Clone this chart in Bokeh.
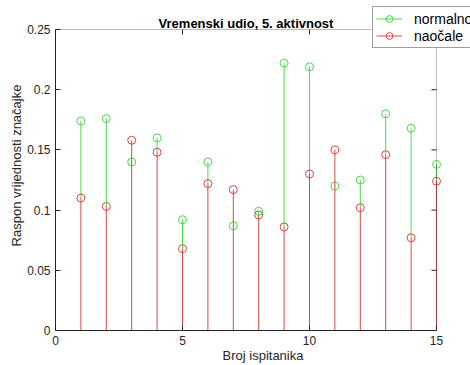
from bokeh.plotting import figure
from bokeh.models import (Range1d, FixedTicker, Legend, LegendItem, Label,
                          BoxAnnotation)
from bokeh.embed import file_html
from bokeh.resources import INLINE

# Subjects and the range of the feature value for each condition
subjects = list(range(1, 16))
normalno = [0.174, 0.176, 0.140, 0.160, 0.092, 0.140, 0.087, 0.099,
            0.222, 0.219, 0.120, 0.125, 0.180, 0.168, 0.138]
naocale = [0.110, 0.103, 0.158, 0.148, 0.068, 0.122, 0.117, 0.096,
           0.086, 0.130, 0.150, 0.102, 0.146, 0.077, 0.124]

x_ticks = [0, 5, 10, 15]
x_tick_labels = ["0", "5", "10", "15"]
y_ticks = [0, 0.05, 0.1, 0.15, 0.2, 0.25]
y_tick_labels = ["0", "0.05", "0.1", "0.15", "0.2", "0.25"]
x_lim = (0, 15)
y_lim = (0, 0.25)

title_text = "Vremenski udio, 5. aktivnost"
x_label = "Broj ispitanika"
y_label = "Raspon vrijednosti značajke"
series_names = ["normalno", "naočale"]

GREEN = "#4cd94c"
RED = "#d94848"
AXIS = "#262626"
FONT = "Liberation Sans"

# Page geometry (pixels).  The plotting frame reaches the top and right
# edges of the canvas so that the title and the boxed legend can sit over
# the axes box; the axes box itself spans AX_LEFT..AX_RIGHT, AX_TOP..AX_BOTTOM.
W, H = 470, 365
AX_LEFT, AX_RIGHT, AX_TOP, AX_BOTTOM = 55, 436, 29, 330

px_per_x = (AX_RIGHT - AX_LEFT) / (x_lim[1] - x_lim[0])
px_per_y = (AX_BOTTOM - AX_TOP) / (y_lim[1] - y_lim[0])
x_range = Range1d(x_lim[0], x_lim[1] + (W - AX_RIGHT) / px_per_x)
y_range = Range1d(y_lim[0], y_lim[1] + AX_TOP / px_per_y)

p = figure(width=W, height=H, output_backend="svg", toolbar_location=None,
           x_range=x_range, y_range=y_range,
           min_border_left=AX_LEFT, min_border_right=0, min_border_top=0,
           min_border_bottom=H - AX_BOTTOM)
p.background_fill_color = "white"
p.border_fill_color = "white"
p.outline_line_color = None
p.grid.visible = False

# The red stems cover the green ones from the baseline up, so the green
# stem is only visible above the red value.
green_base = [min(g, r) for g, r in zip(normalno, naocale)]
zeros = [0] * len(subjects)

g_stem = p.segment(x0=subjects, y0=green_base, x1=subjects, y1=normalno,
                   line_color=GREEN, line_width=1)
g_mark = p.scatter(x=subjects, y=normalno, marker="circle", size=8,
                   fill_color=None, line_color=GREEN, line_width=1)
r_stem = p.segment(x0=subjects, y0=zeros, x1=subjects, y1=naocale,
                   line_color=RED, line_width=1)
r_mark = p.scatter(x=subjects, y=naocale, marker="circle", size=8,
                   fill_color=None, line_color=RED, line_width=1)

# Axes box with inward ticks on the top and right sides
p.add_layout(BoxAnnotation(left=x_lim[0], right=x_lim[1], bottom=y_lim[0],
                           top=y_lim[1], fill_color=None, line_color=AXIS,
                           line_width=1))
p.ray(x=x_ticks, y=[y_lim[1]] * len(x_ticks), length=5, length_units="screen",
      angle=-90, angle_units="deg", line_color=AXIS, line_width=1)
p.ray(x=[x_lim[1]] * len(y_ticks), y=y_ticks, length=5, length_units="screen",
      angle=180, angle_units="deg", line_color=AXIS, line_width=1)


def style_axis(ax):
    ax.axis_line_color = AXIS
    ax.major_tick_line_color = AXIS
    ax.major_tick_in = 5
    ax.major_tick_out = 0
    ax.minor_tick_line_color = None
    ax.major_label_text_font = FONT
    ax.major_label_text_font_size = "12px"
    ax.major_label_text_color = AXIS
    ax.axis_label_text_font = FONT
    ax.axis_label_text_font_size = "13px"
    ax.axis_label_text_font_style = "normal"
    ax.axis_label_text_color = AXIS


xa = p.xaxis[0]
xa.ticker = FixedTicker(ticks=x_ticks)
xa.bounds = x_lim
xa.major_label_overrides = {t: l for t, l in zip(x_ticks, x_tick_labels)}
xa.axis_label = x_label
xa.axis_label_standoff = 0
xa.major_label_standoff = 5
style_axis(xa)

ya = p.yaxis[0]
ya.ticker = FixedTicker(ticks=y_ticks)
ya.bounds = y_lim
ya.major_label_overrides = {t: l for t, l in zip(y_ticks, y_tick_labels)}
ya.axis_label = y_label
ya.axis_label_standoff = 0
ya.major_label_standoff = 5
style_axis(ya)

# Title centred over the axes box
p.add_layout(Label(x=(x_lim[0] + x_lim[1]) / 2, y=y_lim[1], y_offset=6,
                   text=title_text, text_align="center",
                   text_baseline="alphabetic", text_font=FONT,
                   text_font_size="13px", text_font_style="bold",
                   text_color="black"))

legend = Legend(items=[
    LegendItem(label=series_names[0], renderers=[g_stem, g_mark]),
    LegendItem(label=series_names[1], renderers=[r_stem, r_mark]),
], location=(372 - AX_LEFT, AX_BOTTOM - 48))
legend.label_text_font = FONT
legend.label_text_font_size = "14px"
legend.label_text_color = "black"
legend.border_line_color = "#404040"
legend.border_line_width = 1
legend.background_fill_color = "white"
legend.background_fill_alpha = 1
legend.padding = 3
legend.margin = 0
legend.spacing = 0
legend.glyph_width = 26
legend.glyph_height = 17
legend.label_height = 17
legend.label_standoff = 12
p.add_layout(legend, "center")

open("out.html", "w").write(file_html(p, INLINE))
